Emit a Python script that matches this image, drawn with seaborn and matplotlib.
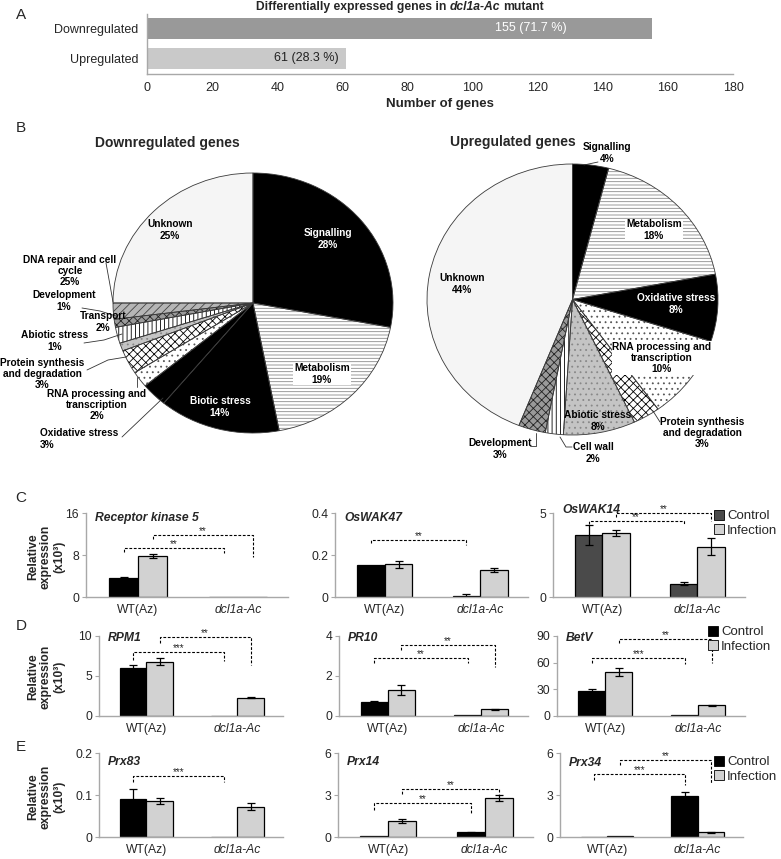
import numpy as np
import pandas as pd
import matplotlib
matplotlib.use("Agg")
import matplotlib.pyplot as plt
import seaborn as sns
from matplotlib.lines import Line2D
from matplotlib.patches import Patch
from matplotlib.container import BarContainer
from matplotlib.offsetbox import TextArea, HPacker, AnchoredOffsetbox

# ---------------- DATA ----------------
# Panel A
regulation = ["Downregulated", "Upregulated"]
gene_counts = [155, 61]
gene_count_labels = ["155 (71.7 %)", "61 (28.3 %)"]

# Panel B pies
down_categories = ["Signalling", "Metabolism", "Biotic stress", "Oxidative stress",
                   "RNA processing and transcription", "Protein synthesis and degradation",
                   "Abiotic stress", "Transport", "Development", "DNA repair and cell cycle",
                   "Unknown"]
down_percent = [28, 19, 14, 3, 2, 3, 1, 2, 1, 2, 25]

up_categories = ["Signalling", "Metabolism", "Oxidative stress",
                 "RNA processing and transcription", "Protein synthesis and degradation",
                 "Abiotic stress", "Cell wall", "Development", "Unknown"]
up_percent = [4, 18, 8, 10, 3, 8, 2, 3, 44]

# Panels C-E: qRT-PCR
genotypes = ["WT(Az)", "dcl1a-Ac"]
treatments = ["Control", "Infection"]

rk5_control = [3.7, 0.03];   rk5_control_err = [0.15, 0.0]
rk5_infection = [7.8, 0.03]; rk5_infection_err = [0.4, 0.0]

wak47_control = [0.152, 0.003];  wak47_control_err = [0.0, 0.01]
wak47_infection = [0.155, 0.13]; wak47_infection_err = [0.016, 0.01]

wak14_control = [3.7, 0.8];    wak14_control_err = [0.6, 0.1]
wak14_infection = [3.8, 3.0];  wak14_infection_err = [0.17, 0.5]

rpm1_control = [6.0, 0.06];   rpm1_control_err = [0.4, 0.0]
rpm1_infection = [6.8, 2.3];  rpm1_infection_err = [0.4, 0.1]

pr10_control = [0.72, 0.04];  pr10_control_err = [0.04, 0.0]
pr10_infection = [1.32, 0.33]; pr10_infection_err = [0.25, 0.03]

betv_control = [28.0, 1.0];   betv_control_err = [2.0, 0.0]
betv_infection = [50.0, 12.0]; betv_infection_err = [4.5, 0.8]

prx83_control = [0.090, 0.0005];  prx83_control_err = [0.025, 0.0]
prx83_infection = [0.086, 0.072]; prx83_infection_err = [0.007, 0.008]

prx14_control = [0.05, 0.35];   prx14_control_err = [0.0, 0.04]
prx14_infection = [1.15, 2.8];  prx14_infection_err = [0.15, 0.22]

prx34_control = [0.03, 2.95];   prx34_control_err = [0.0, 0.25]
prx34_infection = [0.05, 0.35]; prx34_infection_err = [0.0, 0.03]

# ---------------- STYLE / LAYOUT ----------------
W, H = 781, 859
sns.set_theme(style="white")
plt.rcParams["font.family"] = ["Liberation Sans", "DejaVu Sans"]
plt.rcParams["hatch.linewidth"] = 0.6
SPINE = "#a8a8a8"

fig = plt.figure(figsize=(W / 100, H / 100), dpi=100)


def rect(l, r, t, b):
    return [l / W, 1 - b / H, (r - l) / W, (b - t) / H]


def fx(x):
    return x / W


def fy(y):
    return 1 - y / H


# panel letters
for letter, ly in zip("ABCDE", [15, 128, 498, 626, 747]):
    fig.text(fx(21), fy(ly), letter, fontsize=11, ha="center", va="center")

# ---------------- PANEL A ----------------
axA = fig.add_axes(rect(147, 733, 13.5, 73.5))
dfA = pd.DataFrame({"category": regulation, "genes": gene_counts})
sns.barplot(data=dfA, x="genes", y="category", hue="category", order=regulation,
            hue_order=regulation, palette=["#999999", "#c9c9c9"], orient="h",
            width=0.72, saturation=1, legend=False, ax=axA, edgecolor="none")
axA.set_xlim(0, 180)
axA.set_ylim(1.5, -0.5)
axA.set_xticks(np.arange(0, 181, 20))
axA.tick_params(axis="x", length=0, pad=6, labelsize=9)
axA.tick_params(axis="y", length=0, pad=6, labelsize=9)
axA.set_ylabel("")
axA.set_xlabel("Number of genes", fontweight="bold", fontsize=9.5, labelpad=3)
for s in ["top", "right"]:
    axA.spines[s].set_visible(False)
for s in ["left", "bottom"]:
    axA.spines[s].set_color(SPINE)
    axA.spines[s].set_linewidth(1)
label_offsets = [26, 2]
label_colors = ["white", "#222222"]
for i, (v, lab) in enumerate(zip(gene_counts, gene_count_labels)):
    axA.text(v - label_offsets[i], i, lab, ha="right", va="center", fontsize=9,
             color=label_colors[i])

tp = dict(weight="bold", size=8.7)
title_box = HPacker(children=[
    TextArea("Differentially expressed genes in", textprops=tp),
    TextArea("dcl1a-Ac", textprops=dict(weight="bold", style="italic", size=8.7)),
    TextArea("mutant", textprops=tp)], align="baseline", pad=0, sep=2.5)
fig.add_artist(AnchoredOffsetbox(loc="center", child=title_box, pad=0, frameon=False,
                                 borderpad=0, bbox_to_anchor=(fx(400), fy(7)),
                                 bbox_transform=fig.transFigure))

# ---------------- PANEL B ----------------
pie_styles = {
    "Signalling": ("black", "", "black"),
    "Metabolism": ("white", "-----", "#8a8a8a"),
    "Biotic stress": ("black", "", "black"),
    "Oxidative stress": ("black", "", "black"),
    "RNA processing and transcription": ("white", "...", "#555555"),
    "Protein synthesis and degradation": ("white", "xxxx", "black"),
    "Abiotic stress": ("#c4c4c4", "...", "#888888"),
    "Transport": ("white", "||||", "black"),
    "Development": ("#9a9a9a", "xxxx", "#222222"),
    "DNA repair and cell cycle": ("#b5b5b5", "////", "#444444"),
    "Cell wall": ("white", "||||", "black"),
    "Unknown": ("#f5f5f5", "", "#f5f5f5"),
}


def draw_pie(ax, cats, vals):
    wedges, _ = ax.pie(vals, startangle=90, counterclock=False, radius=1,
                       wedgeprops=dict(linewidth=0))
    for w, c in zip(wedges, cats):
        fc, hatch, hc = pie_styles[c]
        w.set_facecolor(fc)
        w.set_edgecolor(hc)
        w.set_hatch(hatch)
        w.set_linewidth(0)
    ax.pie(vals, startangle=90, counterclock=False, radius=1,
           wedgeprops=dict(fill=False, edgecolor="#3a3a3a", linewidth=0.6))
    ax.set_aspect("auto")
    ax.set_xlim(-1.0, 1.0)
    ax.set_ylim(-1.0, 1.0)
    ax.axis("off")


axP1 = fig.add_axes(rect(113, 393, 173, 433))
draw_pie(axP1, down_categories, down_percent)
axP2 = fig.add_axes(rect(427, 718, 164, 435))
draw_pie(axP2, up_categories, up_percent)

fig.text(fx(167), fy(143), "Downregulated genes", fontsize=10, fontweight="bold",
         ha="center", va="center")
fig.text(fx(513), fy(142), "Upregulated genes", fontsize=10, fontweight="bold",
         ha="center", va="center")


def ptext(x, y, s, color="black", box=False, ha="center", ma="center", size=7.3):
    kw = {}
    if box:
        kw["bbox"] = dict(facecolor="white", edgecolor="none", pad=0.6)
    fig.text(fx(x), fy(y), s, ha=ha, va="center", fontsize=size, fontweight="bold",
             color=color, multialignment=ma, linespacing=1.15, **kw)


def leader(pts):
    fig.add_artist(Line2D([fx(p[0]) for p in pts], [fy(p[1]) for p in pts],
                          transform=fig.transFigure, color="#333333", lw=0.6))


# left pie labels
ptext(170, 230, "Unknown\n25%")
ptext(328, 239, "Signalling\n28%", color="white")
ptext(322, 374, "Metabolism\n19%", box=True)
ptext(220, 407, "Biotic stress\n14%", color="white")
ptext(70, 271, "DNA repair and cell\ncycle\n25%")
ptext(64, 301, "Development\n1%")
ptext(103, 322, "Transport\n2%")
ptext(55, 341, "Abiotic stress\n1%")
ptext(42, 374, "Protein synthesis\nand degradation\n3%")
ptext(97, 405, "RNA processing and\ntranscription\n2%")
ptext(40, 439, "Oxidative stress\n3%", ha="left", ma="left")
leader([(106, 263), (110, 285), (113, 302)])
leader([(82, 308), (100, 311), (116, 316)])
leader([(84, 343), (104, 340), (122, 334)])
leader([(87, 370), (108, 360), (126, 357)])
leader([(137, 377), (137, 387)])
leader([(122, 437), (163, 398)])

# right pie labels
ptext(607, 153, "Signalling\n4%")
ptext(654, 230, "Metabolism\n18%", box=True)
ptext(462, 284, "Unknown\n44%")
ptext(676, 304, "Oxidative stress\n8%", color="white")
ptext(662, 358, "RNA processing and\ntranscription\n10%", box=True)
ptext(598, 421, "Abiotic stress\n8%")
ptext(702, 433, "Protein synthesis\nand degradation\n3%")
ptext(500, 449, "Development\n3%")
ptext(593, 453, "Cell wall\n2%")
leader([(598, 162), (584, 165)])
leader([(660, 422), (653, 411)])
leader([(536, 433), (536, 446), (530, 446)])
leader([(560, 437), (566, 447), (572, 447)])

# ---------------- PANELS C-E ----------------
panels = [
    # name, ctrl, ctrl_err, inf, inf_err, ymax, yticks, box(l,r,t,b), ctrl colour, title dy, legend
    ("Receptor kinase 5", rk5_control, rk5_control_err, rk5_infection, rk5_infection_err,
     16, [0, 8, 16], (86, 288, 513, 597), "black", 5, None),
    ("OsWAK47", wak47_control, wak47_control_err, wak47_infection, wak47_infection_err,
     0.4, [0, 0.2, 0.4], (335, 528, 513, 597), "black", 5, None),
    ("OsWAK14", wak14_control, wak14_control_err, wak14_infection, wak14_infection_err,
     5, [0, 5], (553, 745, 513, 597), "#4a4a4a", -3, (714, 510)),
    ("RPM1", rpm1_control, rpm1_control_err, rpm1_infection, rpm1_infection_err,
     10, [0, 5, 10], (99, 283, 636, 716), "black", 2, None),
    ("PR10", pr10_control, pr10_control_err, pr10_infection, pr10_infection_err,
     4, [0, 2, 4], (339, 528, 636, 716), "black", 2, None),
    ("BetV", betv_control, betv_control_err, betv_infection, betv_infection_err,
     90, [0, 30, 60, 90], (557, 745, 636, 716), "black", 2, (708, 626)),
    ("Prx83", prx83_control, prx83_control_err, prx83_infection, prx83_infection_err,
     0.2, [0, 0.1, 0.2], (99, 283, 753, 837), "black", 9, None),
    ("Prx14", prx14_control, prx14_control_err, prx14_infection, prx14_infection_err,
     6, [0, 3, 6], (338, 533, 753, 837), "black", 9, None),
    ("Prx34", prx34_control, prx34_control_err, prx34_infection, prx34_infection_err,
     6, [0, 3, 6], (560, 743, 753, 837), "black", 10, (714, 756)),
]

# significance brackets: (hue index, bracket height, left leg end, right leg end, label)
brackets = {
    "Receptor kinase 5": [(0, 9.3, 8.6, 8.4, "**"), (1, 11.8, 11.0, 7.6, "**")],
    "OsWAK47": [(0, 0.27, 0.255, 0.25, "**")],
    "OsWAK14": [(0, 4.55, 4.35, 4.35, "**"), (1, 5.0, 4.75, 4.55, "**")],
    "RPM1": [(0, 8.0, 7.0, 6.9, "***"), (1, 9.9, 9.1, 6.4, "**")],
    "PR10": [(0, 2.9, 2.65, 2.65, "**"), (1, 3.55, 3.3, 2.45, "**")],
    "BetV": [(0, 65, 60, 59, "***"), (1, 87, 82, 60, "**")],
    "Prx83": [(0, 0.145, 0.13, 0.13, "***")],
    "Prx14": [(0, 2.4, 1.95, 1.75, "**"), (1, 3.45, 3.05, 3.05, "**")],
    "Prx34": [(0, 4.5, 4.1, 3.7, "***"), (1, 5.5, 5.15, 3.85, "**")],
}

inf_colour = "#d2d2d2"
for (name, ctrl, ctrl_e, inf, inf_e, ymax, yticks, box, ccol, tdy, leg) in panels:
    l, r, t, b = box
    ax = fig.add_axes(rect(l, r, t, b))
    df = pd.DataFrame({
        "genotype": genotypes * 2,
        "treatment": [treatments[0]] * 2 + [treatments[1]] * 2,
        "value": list(ctrl) + list(inf),
    })
    sns.barplot(data=df, x="genotype", y="value", hue="treatment", order=genotypes,
                hue_order=treatments, palette=[ccol, inf_colour], width=0.58,
                saturation=1, edgecolor="black", linewidth=0.9, errorbar=None,
                legend=False, ax=ax)
    errs = [ctrl_e, inf_e]
    vals = [ctrl, inf]
    bar_conts = [c for c in ax.containers if isinstance(c, BarContainer)]
    centers = [[p.get_x() + p.get_width() / 2 for p in c.patches] for c in bar_conts]
    for hi, cx in enumerate(centers):
        for gi in range(len(cx)):
            if errs[hi][gi] > 0:
                ax.errorbar(cx[gi], vals[hi][gi], yerr=errs[hi][gi], fmt="none",
                            ecolor="black", elinewidth=0.9, capsize=3, capthick=0.9)
    for (hi, yb, ya, yc, txt) in brackets[name]:
        xa, xb = centers[hi][0], centers[hi][1]
        ax.plot([xa, xa, xb, xb], [ya, yb, yb, yc], color="black", lw=0.8,
                ls=(0, (2.5, 1.5)), clip_on=False)
        ax.text((xa + xb) / 2, yb + ymax * 0.01, txt, ha="center", va="baseline",
                fontsize=7)
    ax.set_xlim(-0.52, 1.5)
    ax.set_ylim(0, ymax)
    ax.set_yticks(yticks)
    ax.set_yticklabels(["%g" % v for v in yticks])
    ax.set_xticks([0, 1])
    ax.set_xticklabels(genotypes)
    ax.get_xticklabels()[1].set_style("italic")
    ax.set_xlabel("")
    ax.set_ylabel("")
    ax.tick_params(axis="x", length=0, pad=5, labelsize=8.7)
    ax.tick_params(axis="y", length=3, width=0.8, color=SPINE, pad=2, labelsize=8.7,
                   left=True)
    for s in ["top", "right"]:
        ax.spines[s].set_visible(False)
    for s in ["left", "bottom"]:
        ax.spines[s].set_color(SPINE)
        ax.spines[s].set_linewidth(1)
    fig.text(fx(l + 9), fy(t + tdy), name, fontsize=8.7, fontweight="bold",
             fontstyle="italic", ha="left", va="center")
    if leg is not None:
        handles = [Patch(facecolor=ccol, edgecolor="black", linewidth=0.6),
                   Patch(facecolor=inf_colour, edgecolor="black", linewidth=0.6)]
        ax.legend(handles, treatments, loc="upper left",
                  bbox_to_anchor=(fx(leg[0]), fy(leg[1])), bbox_transform=fig.transFigure,
                  frameon=False, fontsize=9.5, handlelength=0.75, handleheight=0.75,
                  handletextpad=0.25, labelspacing=0.15, borderpad=0, borderaxespad=0)

for ycen in [557, 677, 797]:
    fig.text(fx(46), fy(ycen), "Relative\nexpression\n(x10³)", rotation=90, fontsize=8.7,
             fontweight="bold", ha="center", va="center", linespacing=1.1)

fig.savefig("out.png", dpi=100)
